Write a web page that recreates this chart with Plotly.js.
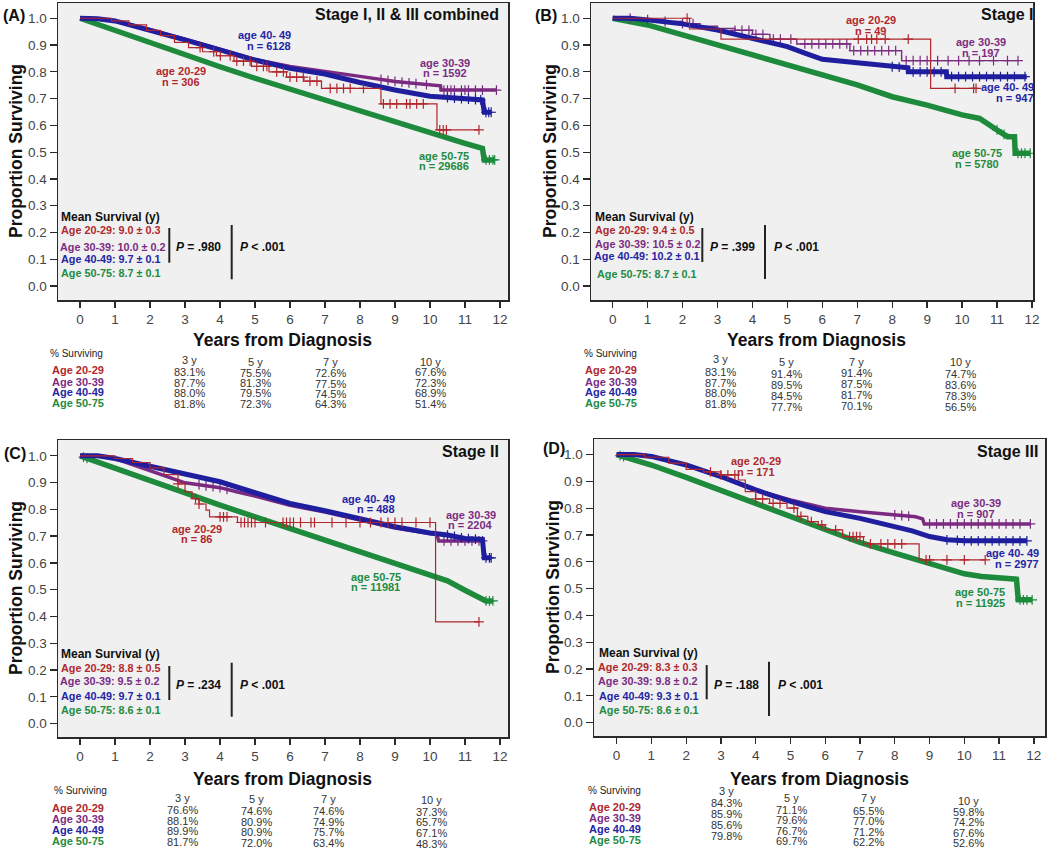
<!DOCTYPE html>
<html><head><meta charset="utf-8">
<script src="https://cdn.plot.ly/plotly-3.0.1.min.js"></script>
<style>html,body{margin:0;padding:0;background:#fff}#chart{width:1050px;height:850px}</style>
</head><body><div id="chart"></div>
<script>
// ---------------- DATA ----------------
const groupNames = ['age 20-29','age 30-39','age 40- 49','age 50-75'];
const tableGroups = ['Age 20-29','Age 30-39','Age 40-49','Age 50-75'];
const meanGroups = ['Age 20-29','Age 30-39','Age 40-49','Age 50-75'];
const tableYears = ['3 y','5 y','7 y','10 y'];
const stageTitles = ['Stage I, II &amp; III combined','Stage I','Stage II','Stage III'];
const panelLetters = ['(A)','(B)','(C)','(D)'];

// Panel A: Stage I, II & III combined
const nA = [306,1592,6128,29686];
const meanA = ['9.0 ± 0.3','10.0 ± 0.2','9.7 ± 0.1','8.7 ± 0.1'];
const pA = ['.980','.001'];
const tA_r = [0,0.9,1.4,1.9,2.3,2.7,3.1,3.5,3.9,4.4,4.9,5.4,5.9,6.4,6.9,8.6,10.2,11.4];
const sA_r = [1.0,0.99,0.975,0.955,0.935,0.91,0.89,0.875,0.86,0.84,0.82,0.80,0.78,0.765,0.738,0.68,0.583,0.583];
const cA_r = [3.43,3.82,4.01,4.29,4.48,4.67,4.86,5.05,5.24,5.34,5.62,5.81,6.0,6.19,6.38,6.57,6.77,7.15,7.34,7.53,7.72,8.1,8.67,8.86,9.05,9.33,9.43,9.62,9.81,10.28,10.38,10.47,11.4];
const tA_p = [0,0.5,1,2,3,4,5,6,7,8,9,10,10.3,10.32,11.9];
const sA_p = [1.0,0.998,0.99,0.958,0.922,0.884,0.846,0.82,0.80,0.783,0.764,0.751,0.748,0.732,0.732];
const cA_p = [8.6,8.8,9.0,9.2,9.4,9.6,9.9,10.4,10.5,10.6,10.7,10.9,11.0,11.1,11.3,11.5,11.9];
const tA_b = [0,0.5,1,2,3,4,5,6,7,8,9,10,11,11.5,11.55,11.75];
const sA_b = [1.0,0.998,0.99,0.956,0.919,0.882,0.844,0.813,0.792,0.76,0.732,0.709,0.699,0.695,0.649,0.649];
const cA_b = [10.5,10.7,10.9,11.1,11.3,11.45,11.6,11.68,11.75];
const tA_g = [0,1,2,3,4,5,6,7,8,9,10,11,11.5,11.55,11.85];
const sA_g = [1.0,0.954,0.909,0.863,0.819,0.776,0.735,0.692,0.651,0.614,0.574,0.533,0.514,0.471,0.471];
const cA_g = [11.6,11.7,11.8,11.85];
const tabA_r = ['83.1%','75.5%','72.6%','67.6%'];
const tabA_p = ['87.7%','81.3%','77.5%','72.3%'];
const tabA_b = ['88.0%','79.5%','74.5%','68.9%'];
const tabA_g = ['81.8%','72.3%','64.3%','51.4%'];

// Panel B: Stage I
const nB = [49,197,947,5780];
const meanB = ['9.4 ± 0.5','10.5 ± 0.2','10.2 ± 0.1','8.7 ± 0.1'];
const pB = ['.399','.001'];
const tB_r = [0,2.2,3.1,9.1,10.4];
const sB_r = [1.0,0.96,0.922,0.738,0.738];
const cB_r = [2.13,7.03,7.27,7.41,7.56,7.8,8.46,9.8,10.33,10.4];
const tB_p = [0,0.8,1.5,2.0,2.5,3.0,3.5,4.0,4.5,5.27,6.79,8.27,11.6];
const sB_p = [1.0,0.995,0.988,0.98,0.97,0.962,0.955,0.94,0.922,0.904,0.879,0.842,0.842];
const cB_p = [0.5,1.0,1.5,2.0,2.3,3.5,3.7,3.9,4.1,4.3,4.6,4.8,5.1,5.5,5.7,5.9,6.1,6.3,6.5,6.7,6.9,7.1,7.3,7.5,7.7,7.9,8.1,8.4,8.6,8.8,9.0,9.3,9.6,9.9,10.2,10.5,10.9,11.3,11.6];
const tB_b = [0,0.5,1,2,3,4,5,5.5,6,7,8,8.45,8.46,9.55,9.56,11.85];
const sB_b = [1.0,1.0,0.994,0.979,0.956,0.925,0.894,0.87,0.847,0.834,0.819,0.815,0.80,0.80,0.782,0.782];
const cB_b = [8.0,8.2,8.6,8.8,9.0,9.2,9.4,9.7,9.9,10.1,10.3,10.5,10.7,10.9,11.1,11.3,11.5,11.8];
const tB_g = [0,1,2,3,4,5,6,7,8,9,10,10.5,11,11.3,11.5,11.52,11.95];
const sB_g = [1.0,0.975,0.938,0.90,0.863,0.826,0.785,0.751,0.707,0.676,0.639,0.626,0.583,0.558,0.558,0.496,0.496];
const cB_g = [11.0,11.2,11.6,11.7,11.8,11.95];
const tabB_r = ['83.1%','91.4%','91.4%','74.7%'];
const tabB_p = ['87.7%','89.5%','87.5%','83.6%'];
const tabB_b = ['88.0%','84.5%','81.7%','78.3%'];
const tabB_g = ['81.8%','77.7%','70.1%','56.5%'];

// Panel C: Stage II
const nC = [86,2204,488,11981];
const meanC = ['8.8 ± 0.5','9.5 ± 0.2','9.7 ± 0.1','8.6 ± 0.1'];
const pC = ['.234','.001'];
const tC_r = [0,1.0,1.5,2.0,2.4,2.8,3.0,3.2,3.4,3.6,3.7,4.5,10.16,11.4];
const sC_r = [1.0,0.99,0.975,0.955,0.93,0.895,0.865,0.84,0.82,0.797,0.772,0.751,0.38,0.38];
const cC_r = [2.8,3.3,3.4,4.0,4.1,4.2,4.6,4.7,4.8,4.9,5.0,5.3,5.8,5.9,6.0,6.1,6.3,6.6,6.7,7.2,7.6,8.0,8.3,8.6,8.8,9.0,9.2,9.6,10.0,11.4];
const tC_p = [0,0.5,1,2,3,3.5,4,4.5,5,6,7,8,9,10,10.2,10.25,11.5];
const sC_p = [1.0,1.0,0.99,0.946,0.899,0.89,0.881,0.865,0.85,0.815,0.79,0.76,0.73,0.71,0.705,0.682,0.682];
const cC_p = [3.4,3.6,3.8,4.0,4.2,10.4,10.6,10.8,11.0,11.2,11.4,11.5];
const tC_b = [0,0.5,1,2,3,4,5,6,7,8,9,10,10.5,11,11.5,11.55,11.75];
const sC_b = [1.0,1.0,0.99,0.961,0.934,0.903,0.862,0.822,0.795,0.766,0.735,0.712,0.704,0.691,0.688,0.619,0.619];
const cC_b = [10.5,10.7,10.9,11.1,11.3,11.6,11.7,11.75];
const tC_g = [0,1,2,3,4,5,6,7,8,9,10,10.5,11,11.4,11.6,11.8];
const sC_g = [1.0,0.953,0.909,0.862,0.816,0.772,0.729,0.685,0.641,0.598,0.558,0.533,0.498,0.473,0.458,0.458];
const cC_g = [0.1,0.2,11.6,11.7,11.8];
const tabC_r = ['76.6%','74.6%','74.6%','37.3%'];
const tabC_p = ['88.1%','80.9%','74.9%','65.7%'];
const tabC_b = ['89.9%','80.9%','75.7%','67.1%'];
const tabC_g = ['81.7%','72.0%','63.4%','48.3%'];

// Panel D: Stage III
const nD = [171,907,2977,11925];
const meanD = ['8.3 ± 0.3','9.8 ± 0.2','9.3 ± 0.1','8.6 ± 0.1'];
const pD = ['.188','.001'];
const tD_r = [0,0.8,1.5,2.0,2.5,3.0,3.5,3.7,4.0,4.4,4.9,5.2,5.5,5.8,6.0,6.5,7.1,8.7,10.6];
const sD_r = [1.0,0.99,0.968,0.945,0.935,0.924,0.905,0.862,0.835,0.818,0.80,0.769,0.75,0.738,0.719,0.694,0.667,0.607,0.607];
const cD_r = [2.7,3.0,3.2,3.4,4.0,4.2,4.5,4.7,5.1,5.3,5.6,5.9,6.3,6.7,6.8,6.9,7.0,7.3,7.6,7.8,8.0,8.2,8.9,9.0,9.5,10.0,10.6];
const tD_p = [0,0.5,1,2,3,4,5,6,7,8,8.6,8.8,8.85,11.9];
const sD_p = [1.0,1.0,0.995,0.961,0.918,0.866,0.831,0.80,0.787,0.775,0.768,0.76,0.741,0.741];
const cD_p = [8.0,8.2,8.4,9.0,9.2,9.4,9.6,9.8,10.0,10.2,10.4,10.6,10.8,11.0,11.2,11.4,11.6,11.9];
const tD_b = [0,0.5,1,2,3,4,5,6,7,8,8.5,9,9.5,10,11.8];
const sD_b = [1.0,1.0,0.993,0.961,0.918,0.868,0.825,0.787,0.762,0.731,0.715,0.694,0.682,0.678,0.678];
const cD_b = [9.5,9.8,10.0,10.2,10.4,10.6,10.8,11.0,11.2,11.4,11.6,11.8];
const tD_g = [0,1,2,3,4,5,6,7,8,9,10,10.5,11,11.5,11.55,11.95];
const sD_g = [1.0,0.961,0.915,0.866,0.816,0.769,0.719,0.672,0.632,0.592,0.555,0.545,0.539,0.535,0.458,0.458];
const cD_g = [0.1,0.2,11.6,11.7,11.8,11.95];
const tabD_r = ['84.3%','71.1%','65.5%','59.8%'];
const tabD_p = ['85.9%','79.6%','77.0%','74.2%'];
const tabD_b = ['85.6%','76.7%','71.2%','67.6%'];
const tabD_g = ['79.8%','69.7%','62.2%','52.6%'];

// ---------------- STYLE / LAYOUT ----------------
const W = 1050, H = 850;
const px = x => x / W, py = y => 1 - y / H;
const COLORS = ['#b0262c','#7a2a80','#1e1e9e','#1d8a3c'];
const TEXTCOL = ['#b0282e','#7b2c82','#2424a4','#228b40'];
const FONT = 'Liberation Sans, Arial, Helvetica, sans-serif';

const panels = [
  {xa:'x', ya:'y', dom:[58,508], domY:[3,300], xr:[-0.63,12.23], yr:[-0.052,1.057],
   curves:[[tA_r,sA_r,cA_r],[tA_p,sA_p,cA_p],[tA_b,sA_b,cA_b],[tA_g,sA_g,cA_g]],
   shapes:['hv','linear','linear','linear'], widths:[1.2,3.5,5,5.5],
   n:nA, mean:meanA, p:pA, tab:[tabA_r,tabA_p,tabA_b,tabA_g],
   letter:{x:13.5,y:15}, stage:{x:501,y:14}, ytitle:{x:16,y:151}, xtitle:{x:282,y:340},
   labels:[{x:180.7,y:[71,81.7],a:'center'},{x:445,y:[62.7,73.3],a:'center'},{x:293.3,y:[35,45.7],a:'right'},{x:444,y:[155.7,166],a:'center'}],
   mean0:{x:59,y:216.7}, meanRows:{x:[59,58,59,59], y:[230,246.7,259,273.3]},
   l1:{x:169.3,y0:228,y1:262.7}, p1:{x:174.3,y:246.7}, l2:{x:231.7,y0:225,y1:279.3}, p2:{x:238.3,y:246.7},
   table:{sx:76.7, sy:353, lx:78, ly:[370,381.7,392.3,402.7], cx:[189,255,330,430], hy:[360,361.7,362,362.3], vy:[372.3,372.5,373.3,372.3], st:[10.4,10.4,10.4,10.4]}},
  {xa:'x2', ya:'y2', dom:[591,1033], domY:[3,300], xr:[-0.62,12.03], yr:[-0.052,1.057],
   curves:[[tB_r,sB_r,cB_r],[tB_p,sB_p,cB_p],[tB_b,sB_b,cB_b],[tB_g,sB_g,cB_g]],
   shapes:['hv','hv','linear','linear'], widths:[1.2,1.4,5,5.5],
   n:nB, mean:meanB, p:pB, tab:[tabB_r,tabB_p,tabB_b,tabB_g],
   letter:{x:546,y:15}, stage:{x:1035,y:14}, ytitle:{x:550,y:151}, xtitle:{x:816,y:340},
   labels:[{x:870.7,y:[20,30.7],a:'center'},{x:981.3,y:[42.3,52.7],a:'center'},{x:1035.7,y:[87.3,97.7],a:'right'},{x:977,y:[153.3,163.7],a:'center'}],
   mean0:{x:592.7,y:216.7}, meanRows:{x:[593,593,591.7,595], y:[230,244.3,255.7,274]},
   l1:{x:702.3,y0:228,y1:262}, p1:{x:708.3,y:246.7}, l2:{x:765,y0:225,y1:279}, p2:{x:772.3,y:246.7},
   table:{sx:610, sy:353, lx:611, ly:[370,381.7,392.3,402.7], cx:[720,786.7,856.7,960], hy:[359,362,362,362.3], vy:[372.3,374.3,373.3,374.3], st:[10.6,10.8,10.8,10.8]}},
  {xa:'x3', ya:'y3', dom:[58,508], domY:[440,737], xr:[-0.63,12.23], yr:[-0.050,1.059],
   curves:[[tC_r,sC_r,cC_r],[tC_p,sC_p,cC_p],[tC_b,sC_b,cC_b],[tC_g,sC_g,cC_g]],
   shapes:['hv','linear','linear','linear'], widths:[1.2,3.5,5,5.5],
   n:nC, mean:meanC, p:pC, tab:[tabC_r,tabC_p,tabC_b,tabC_g],
   letter:{x:15,y:453}, stage:{x:501,y:451.7}, ytitle:{x:16,y:588}, xtitle:{x:282,y:779},
   labels:[{x:196.7,y:[528.7,539],a:'center'},{x:470.7,y:[514.7,525.3],a:'center'},{x:397.3,y:[499,509.3],a:'right'},{x:375.7,y:[576.7,587.3],a:'center'}],
   mean0:{x:59,y:654.3}, meanRows:{x:[59,58,59,59], y:[668.3,680.7,695.7,710]},
   l1:{x:169.3,y0:666,y1:700}, p1:{x:174.3,y:685}, l2:{x:231.7,y0:662.7,y1:716.7}, p2:{x:238.3,y:685},
   table:{sx:80, sy:790, lx:78, ly:[807.7,819,830,841], cx:[182,256.7,328,431.7], hy:[797.7,799,799,800], vy:[810,811,811,811.7], st:[10.6,10.6,10.6,10.6]}},
  {xa:'x4', ya:'y4', dom:[594,1045], domY:[439,736], xr:[-0.65,12.32], yr:[-0.050,1.058],
   curves:[[tD_r,sD_r,cD_r],[tD_p,sD_p,cD_p],[tD_b,sD_b,cD_b],[tD_g,sD_g,cD_g]],
   shapes:['hv','linear','linear','linear'], widths:[1.2,3.5,5,5.5],
   n:nD, mean:meanD, p:pD, tab:[tabD_r,tabD_p,tabD_b,tabD_g],
   letter:{x:554,y:449}, stage:{x:1040,y:451}, ytitle:{x:553,y:587}, xtitle:{x:819,y:779},
   labels:[{x:756.3,y:[461,471.7],a:'center'},{x:976.3,y:[503.3,514],a:'center'},{x:1040.7,y:[553.3,564],a:'right'},{x:980,y:[592.3,602.7],a:'center'}],
   mean0:{x:596.7,y:653.3}, meanRows:{x:[595.7,595.7,596.7,596.7], y:[667.3,680.7,695.7,710]},
   l1:{x:706.7,y0:665,y1:699.3}, p1:{x:711.7,y:685}, l2:{x:769,y0:661.7,y1:716}, p2:{x:775.7,y:685},
   table:{sx:614, sy:790, lx:615, ly:[806.7,818,829,840], cx:[726.7,791.7,868,968], hy:[791,797.7,798,800.7], vy:[802.5,810,810.7,811.7], st:[11.3,10.4,10.4,10.4]}}
];

function lookup(t, ts, ss, shape) {
  for (let i = ts.length - 1; i >= 0; i--) {
    if (t >= ts[i]) {
      if (shape === 'hv' || i === ts.length - 1) return ss[i];
      const f = (t - ts[i]) / (ts[i+1] - ts[i]);
      return ss[i] + f * (ss[i+1] - ss[i]);
    }
  }
  return ss[0];
}

const traces = [], annotations = [], shapes = [];
const layout = {
  width: W, height: H, margin:{l:0,r:0,t:0,b:0},
  paper_bgcolor:'#ffffff', plot_bgcolor:'#f0f0f0', showlegend:false,
  font:{family:FONT, color:'#222'}, annotations, shapes
};

function ann(text, x, y, opts) {
  annotations.push(Object.assign({text, x:px(x), y:py(y), xref:'paper', yref:'paper',
    showarrow:false, xanchor:'center', yanchor:'middle',
    font:{family:FONT, size:11, color:'#111'}}, opts || {}));
}

const order = [3,1,2,0]; // draw green first, red on top
panels.forEach((P, k) => {
  const xn = k === 0 ? 'xaxis' : 'xaxis' + (k+1);
  const yn = k === 0 ? 'yaxis' : 'yaxis' + (k+1);
  const common = {showline:true, mirror:true, linecolor:'#2a2a2a', linewidth:1.5,
    ticks:'outside', tickwidth:1.3, tickcolor:'#2a2a2a', showgrid:false, zeroline:false,
    tickfont:{family:FONT, size:13.5, color:'#444'}, fixedrange:true};
  layout[xn] = Object.assign({}, common, {domain:[px(P.dom[0]), px(P.dom[1])], range:P.xr,
    anchor:P.ya, tickmode:'array', tickvals:[0,1,2,3,4,5,6,7,8,9,10,11,12], ticklen:6});
  layout[yn] = Object.assign({}, common, {domain:[py(P.domY[1]), py(P.domY[0])], range:P.yr,
    anchor:P.xa, tickmode:'array', tickvals:[0,0.1,0.2,0.3,0.4,0.5,0.6,0.7,0.8,0.9,1.0],
    tickformat:'.1f', ticklen:7});

  order.forEach(g => {
    const [ts, ss, cs] = P.curves[g];
    traces.push({x:ts, y:ss, xaxis:P.xa, yaxis:P.ya, mode:'lines', hoverinfo:'skip',
      line:{color:COLORS[g], width:P.widths[g], shape:P.shapes[g]}});
    traces.push({x:cs, y:cs.map(t => lookup(t, ts, ss, P.shapes[g])), xaxis:P.xa, yaxis:P.ya,
      mode:'markers', hoverinfo:'skip',
      marker:{symbol:'cross-thin', size:7, color:COLORS[g], line:{color:COLORS[g], width:1.2}}});
  });

  // titles
  ann('<b>' + panelLetters[k] + '</b>', P.letter.x, P.letter.y, {font:{family:FONT, size:16, color:'#111'}});
  ann('<b>' + stageTitles[k] + '</b>', P.stage.x, P.stage.y, {xanchor:'right', font:{family:FONT, size:16, color:'#111'}});
  ann('<b>Proportion Surviving</b>', P.ytitle.x, P.ytitle.y, {textangle:-90, font:{family:FONT, size:17.5, color:'#111'}});
  ann('<b>Years from Diagnosis</b>', P.xtitle.x, P.xtitle.y, {font:{family:FONT, size:17.5, color:'#111'}});

  // curve labels
  P.labels.forEach((L, g) => {
    const f = {family:FONT, size:11, color:TEXTCOL[g]};
    ann('<b>' + groupNames[g] + '</b>', L.x, L.y[0], {xanchor:L.a, font:f});
    ann('<b>n = ' + P.n[g] + '</b>', L.x, L.y[1], {xanchor:L.a, font:f});
  });

  // mean survival block
  ann('<b>Mean Survival (y)</b>', P.mean0.x, P.mean0.y, {xanchor:'left', font:{family:FONT, size:12, color:'#111'}});
  meanGroups.forEach((m, g) => {
    ann('<b>' + m + ': ' + P.mean[g] + '</b>', P.meanRows.x[g], P.meanRows.y[g],
      {xanchor:'left', font:{family:FONT, size:10.8, color:TEXTCOL[g]}});
  });
  [P.l1, P.l2].forEach(l => shapes.push({type:'line', xref:'paper', yref:'paper',
    x0:px(l.x), x1:px(l.x), y0:py(l.y0), y1:py(l.y1), line:{color:'#222', width:2}}));
  ann('<b><i>P</i> = ' + P.p[0] + '</b>', P.p1.x, P.p1.y, {xanchor:'left', font:{family:FONT, size:12, color:'#111'}});
  ann('<b><i>P</i> &lt; ' + P.p[1] + '</b>', P.p2.x, P.p2.y, {xanchor:'left', font:{family:FONT, size:12, color:'#111'}});

  // table
  const T = P.table;
  ann('% Surviving', T.sx, T.sy, {font:{family:FONT, size:10, color:'#222'}});
  tableGroups.forEach((lab, g) => ann('<b>' + lab + '</b>', T.lx, T.ly[g], {font:{family:FONT, size:11, color:TEXTCOL[g]}}));
  tableYears.forEach((yr, c) => {
    ann(yr, T.cx[c], T.hy[c], {font:{family:FONT, size:11, color:'#333'}});
    P.tab.forEach((row, g) => ann(row[c], T.cx[c], T.vy[c] + g * T.st[c], {font:{family:FONT, size:11, color:'#333'}}));
  });
});

Plotly.newPlot('chart', traces, layout, {staticPlot:true, displayModeBar:false});
</script>
</body></html>
